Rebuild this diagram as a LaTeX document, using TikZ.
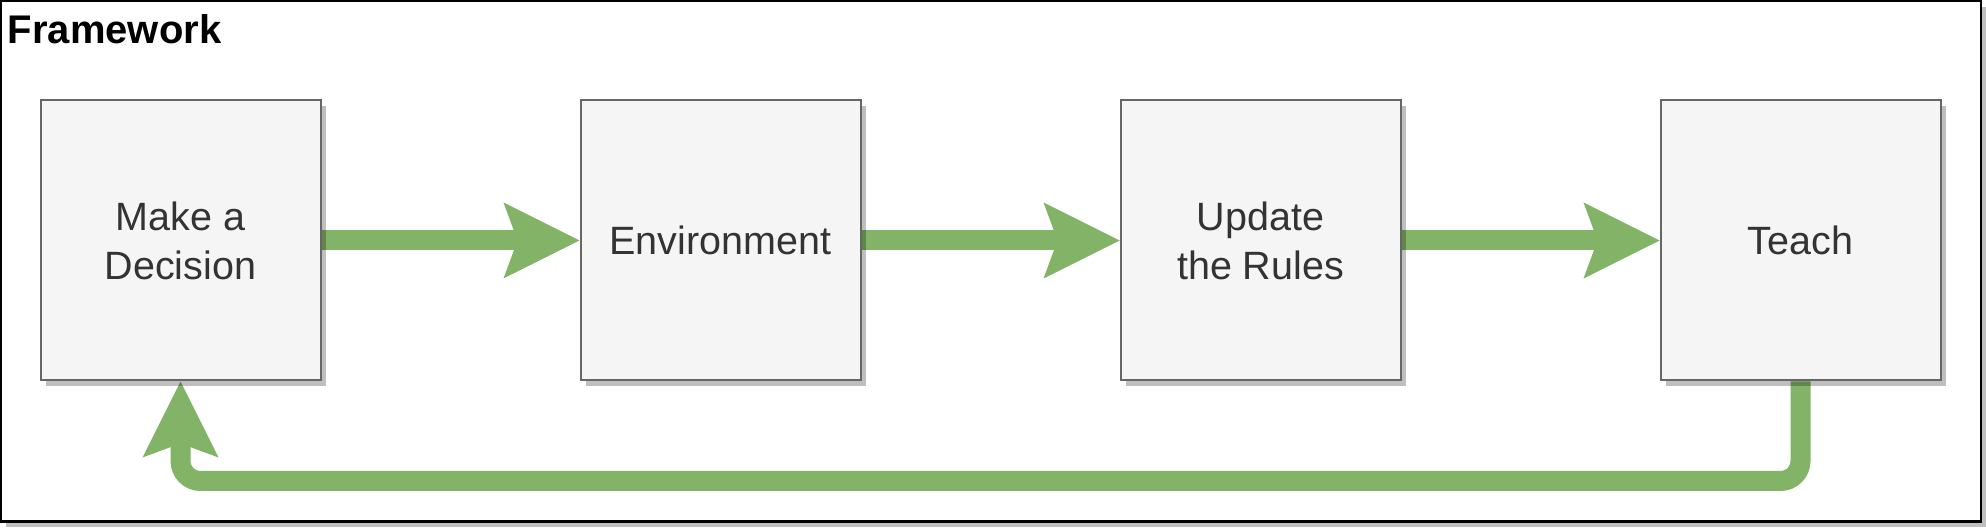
\documentclass[tikz,border=0pt]{standalone}
\usepackage{fontspec}
\setmainfont{Liberation Sans}
\usetikzlibrary{arrows.meta,shadows}
\definecolor{flowgreen}{HTML}{82B366}
\definecolor{boxfill}{HTML}{F5F5F5}
\definecolor{boxline}{HTML}{666666}
\definecolor{txt}{HTML}{333333}
\pgfdeclarelayer{bg}
\pgfdeclarelayer{edges}
\pgfsetlayers{bg,edges,main}
\tikzset{
  stepbox/.style={draw=boxline, fill=boxfill, line width=1pt,
    minimum width=140pt, minimum height=140pt, inner sep=0pt,
    align=center, text=txt, font=\fontsize{19.75pt}{24.5pt}\selectfont,
    drop shadow={shadow xshift=2.7pt, shadow yshift=-2.8pt, opacity=0.25, fill=black}},
  flow/.style={draw=flowgreen, line width=10pt,
    -{Stealth[length=38pt, width=38pt, inset=7pt, line width=0pt]}},
}
\begin{document}
\begin{tikzpicture}[x=0.5pt, y=-0.5pt]
\useasboundingbox (0,0) rectangle (1986,528);
\begin{pgfonlayer}{bg}
\draw[line width=1.2pt, fill=white,
  drop shadow={shadow xshift=2.5pt, shadow yshift=-2.8pt, opacity=0.25, fill=black}]
  (1.2,1.2) rectangle (1980.8,521.6);
\end{pgfonlayer}
\node[anchor=base west, inner sep=0pt, font=\bfseries\fontsize{20pt}{24pt}\selectfont] (title) at (7.5,44) {Framework};
\node[stepbox] (make) at (180.5,240.5) {Make a\\Decision};
\node[stepbox] (env) at (720.5,240.5) {Environment};
\node[stepbox] (upd) at (1260.5,240.5) {Update\\the Rules};
\node[stepbox] (teach) at (1800.5,240.5) {Teach};
\coordinate (c1) at (1800.5,481);
\coordinate (c2) at (180.5,481);
\begin{pgfonlayer}{edges}
\draw[flow] (make.east) -- (env.west);
\draw[flow] (env.east) -- (upd.west);
\draw[flow] (upd.east) -- (teach.west);
\draw[flow, rounded corners=10pt] (teach.south) -- (c1) -- (c2) -- (make.south);
\end{pgfonlayer}
\end{tikzpicture}
\end{document}
